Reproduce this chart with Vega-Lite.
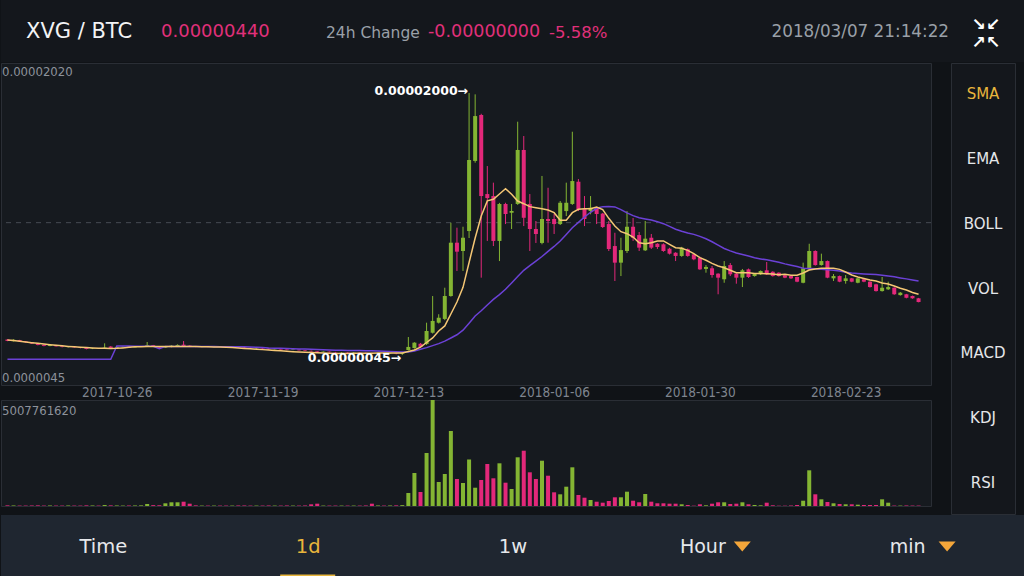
{
  "$schema": "https://vega.github.io/schema/vega-lite/v6.json",
  "background": "#101317",
  "padding": 0,
  "spacing": 0,
  "config": {"view": {"stroke": null}, "font": "DejaVu Sans"},
  "datasets": {
    "candles": [
      {"date":"2017-10-08","open":160,"high":163,"low":148,"close":150,"volume":30000000,"ma7":157,"ma25":13},
      {"date":"2017-10-09","open":148,"high":162,"low":146,"close":158,"volume":25000000,"ma7":153,"ma25":13},
      {"date":"2017-10-10","open":156,"high":158,"low":143,"close":146,"volume":20000000,"ma7":148,"ma25":13},
      {"date":"2017-10-11","open":146,"high":149,"low":137,"close":140,"volume":20000000,"ma7":142,"ma25":13},
      {"date":"2017-10-12","open":140,"high":142,"low":127,"close":130,"volume":25000000,"ma7":137,"ma25":13},
      {"date":"2017-10-13","open":130,"high":133,"low":117,"close":120,"volume":30000000,"ma7":132,"ma25":13},
      {"date":"2017-10-14","open":121,"high":124,"low":110,"close":113,"volume":20000000,"ma7":127,"ma25":13},
      {"date":"2017-10-15","open":112,"high":122,"low":110,"close":119,"volume":25000000,"ma7":122,"ma25":13},
      {"date":"2017-10-16","open":118,"high":120,"low":107,"close":110,"volume":20000000,"ma7":117,"ma25":13},
      {"date":"2017-10-17","open":110,"high":113,"low":102,"close":105,"volume":20000000,"ma7":113,"ma25":13},
      {"date":"2017-10-18","open":104,"high":111,"low":101,"close":109,"volume":25000000,"ma7":109,"ma25":13},
      {"date":"2017-10-19","open":108,"high":110,"low":99,"close":102,"volume":20000000,"ma7":106,"ma25":13},
      {"date":"2017-10-20","open":102,"high":104,"low":94,"close":97,"volume":20000000,"ma7":103,"ma25":13},
      {"date":"2017-10-21","open":97,"high":99,"low":87,"close":90,"volume":30000000,"ma7":100,"ma25":13},
      {"date":"2017-10-22","open":91,"high":98,"low":89,"close":95,"volume":25000000,"ma7":98,"ma25":13},
      {"date":"2017-10-23","open":95,"high":97,"low":90,"close":93,"volume":20000000,"ma7":96,"ma25":13},
      {"date":"2017-10-24","open":93,"high":132,"low":91,"close":100,"volume":45000000,"ma7":95,"ma25":13},
      {"date":"2017-10-25","open":108,"high":112,"low":95,"close":98,"volume":30000000,"ma7":94,"ma25":13},
      {"date":"2017-10-26","open":98,"high":106,"low":96,"close":103,"volume":25000000,"ma7":95,"ma25":112},
      {"date":"2017-10-27","open":103,"high":108,"low":100,"close":106,"volume":20000000,"ma7":98,"ma25":112},
      {"date":"2017-10-28","open":106,"high":108,"low":99,"close":102,"volume":20000000,"ma7":102,"ma25":112},
      {"date":"2017-10-29","open":102,"high":110,"low":100,"close":107,"volume":25000000,"ma7":106,"ma25":111},
      {"date":"2017-10-30","open":107,"high":113,"low":105,"close":110,"volume":30000000,"ma7":107,"ma25":111},
      {"date":"2017-10-31","open":110,"high":142,"low":108,"close":118,"volume":94000000,"ma7":108,"ma25":111},
      {"date":"2017-11-01","open":118,"high":120,"low":107,"close":110,"volume":40000000,"ma7":108,"ma25":110},
      {"date":"2017-11-02","open":110,"high":112,"low":96,"close":99,"volume":35000000,"ma7":108,"ma25":92},
      {"date":"2017-11-03","open":99,"high":107,"low":97,"close":104,"volume":128000000,"ma7":108,"ma25":109},
      {"date":"2017-11-04","open":104,"high":118,"low":102,"close":115,"volume":175000000,"ma7":108,"ma25":109},
      {"date":"2017-11-05","open":112,"high":124,"low":110,"close":120,"volume":175000000,"ma7":108,"ma25":109},
      {"date":"2017-11-06","open":122,"high":149,"low":110,"close":112,"volume":203000000,"ma7":108,"ma25":108},
      {"date":"2017-11-07","open":115,"high":117,"low":105,"close":108,"volume":109000000,"ma7":108,"ma25":108},
      {"date":"2017-11-08","open":108,"high":110,"low":103,"close":105,"volume":30000000,"ma7":108,"ma25":108},
      {"date":"2017-11-09","open":105,"high":109,"low":103,"close":107,"volume":20000000,"ma7":107,"ma25":108},
      {"date":"2017-11-10","open":107,"high":109,"low":103,"close":105,"volume":20000000,"ma7":106,"ma25":108},
      {"date":"2017-11-11","open":105,"high":110,"low":103,"close":108,"volume":20000000,"ma7":105,"ma25":108},
      {"date":"2017-11-12","open":108,"high":110,"low":104,"close":106,"volume":20000000,"ma7":104,"ma25":107},
      {"date":"2017-11-13","open":106,"high":108,"low":102,"close":104,"volume":20000000,"ma7":102,"ma25":107},
      {"date":"2017-11-14","open":104,"high":108,"low":102,"close":106,"volume":20000000,"ma7":100,"ma25":107},
      {"date":"2017-11-15","open":106,"high":107,"low":100,"close":102,"volume":25000000,"ma7":97,"ma25":107},
      {"date":"2017-11-16","open":102,"high":104,"low":96,"close":98,"volume":25000000,"ma7":94,"ma25":106},
      {"date":"2017-11-17","open":98,"high":100,"low":93,"close":95,"volume":20000000,"ma7":91,"ma25":104},
      {"date":"2017-11-18","open":95,"high":99,"low":93,"close":97,"volume":20000000,"ma7":88,"ma25":102},
      {"date":"2017-11-19","open":97,"high":98,"low":91,"close":93,"volume":20000000,"ma7":85,"ma25":100},
      {"date":"2017-11-20","open":93,"high":95,"low":86,"close":88,"volume":25000000,"ma7":82,"ma25":97},
      {"date":"2017-11-21","open":88,"high":93,"low":86,"close":91,"volume":20000000,"ma7":79,"ma25":96},
      {"date":"2017-11-22","open":91,"high":92,"low":84,"close":86,"volume":20000000,"ma7":76,"ma25":95},
      {"date":"2017-11-23","open":86,"high":88,"low":80,"close":82,"volume":25000000,"ma7":73,"ma25":94},
      {"date":"2017-11-24","open":82,"high":87,"low":80,"close":85,"volume":20000000,"ma7":70,"ma25":92},
      {"date":"2017-11-25","open":85,"high":86,"low":78,"close":80,"volume":20000000,"ma7":68,"ma25":90},
      {"date":"2017-11-26","open":80,"high":82,"low":74,"close":76,"volume":25000000,"ma7":66,"ma25":89},
      {"date":"2017-11-27","open":76,"high":78,"low":70,"close":72,"volume":80000000,"ma7":64,"ma25":88},
      {"date":"2017-11-28","open":72,"high":74,"low":65,"close":67,"volume":109000000,"ma7":62,"ma25":86},
      {"date":"2017-11-29","open":67,"high":72,"low":65,"close":70,"volume":20000000,"ma7":60,"ma25":84},
      {"date":"2017-11-30","open":70,"high":71,"low":64,"close":66,"volume":20000000,"ma7":58,"ma25":82},
      {"date":"2017-12-01","open":66,"high":68,"low":61,"close":63,"volume":20000000,"ma7":57,"ma25":81},
      {"date":"2017-12-02","open":63,"high":67,"low":61,"close":65,"volume":20000000,"ma7":57,"ma25":80},
      {"date":"2017-12-03","open":65,"high":66,"low":60,"close":62,"volume":20000000,"ma7":57,"ma25":79},
      {"date":"2017-12-04","open":62,"high":66,"low":60,"close":64,"volume":20000000,"ma7":58,"ma25":78},
      {"date":"2017-12-05","open":64,"high":65,"low":59,"close":61,"volume":20000000,"ma7":58,"ma25":78},
      {"date":"2017-12-06","open":61,"high":63,"low":57,"close":59,"volume":25000000,"ma7":58,"ma25":77},
      {"date":"2017-12-07","open":60,"high":62,"low":54,"close":56,"volume":109000000,"ma7":58,"ma25":76},
      {"date":"2017-12-08","open":56,"high":61,"low":54,"close":59,"volume":25000000,"ma7":59,"ma25":74},
      {"date":"2017-12-09","open":59,"high":60,"low":53,"close":56,"volume":20000000,"ma7":59,"ma25":73},
      {"date":"2017-12-10","open":56,"high":60,"low":53,"close":58,"volume":25000000,"ma7":59,"ma25":71},
      {"date":"2017-12-11","open":58,"high":59,"low":50,"close":55,"volume":30000000,"ma7":60,"ma25":69},
      {"date":"2017-12-12","open":55,"high":66,"low":45,"close":62,"volume":40000000,"ma7":60,"ma25":67},
      {"date":"2017-12-13","open":82,"high":179,"low":79,"close":105,"volume":614000000,"ma7":71,"ma25":67},
      {"date":"2017-12-14","open":97,"high":140,"low":92,"close":137,"volume":1559000000,"ma7":82,"ma25":75},
      {"date":"2017-12-15","open":129,"high":135,"low":100,"close":105,"volume":661000000,"ma7":104,"ma25":88},
      {"date":"2017-12-16","open":127,"high":286,"low":120,"close":224,"volume":2504000000,"ma7":138,"ma25":100},
      {"date":"2017-12-17","open":211,"high":485,"low":205,"close":299,"volume":5007761620,"ma7":172,"ma25":115},
      {"date":"2017-12-18","open":286,"high":349,"low":280,"close":323,"volume":1134000000,"ma7":224,"ma25":130},
      {"date":"2017-12-19","open":314,"high":547,"low":305,"close":485,"volume":1512000000,"ma7":262,"ma25":148},
      {"date":"2017-12-20","open":485,"high":1032,"low":480,"close":883,"volume":3543000000,"ma7":351,"ma25":172},
      {"date":"2017-12-21","open":883,"high":995,"low":672,"close":816,"volume":1275000000,"ma7":440,"ma25":196},
      {"date":"2017-12-22","open":821,"high":1002,"low":672,"close":920,"volume":1087000000,"ma7":550,"ma25":230},
      {"date":"2017-12-23","open":970,"high":2000,"low":918,"close":1500,"volume":2197000000,"ma7":735,"ma25":282},
      {"date":"2017-12-24","open":1493,"high":1990,"low":1480,"close":1828,"volume":864000000,"ma7":918,"ma25":336},
      {"date":"2017-12-25","open":1836,"high":1845,"low":622,"close":1231,"volume":1228000000,"ma7":1082,"ma25":375},
      {"date":"2017-12-26","open":1246,"high":1455,"low":896,"close":1216,"volume":1984000000,"ma7":1195,"ma25":418},
      {"date":"2017-12-27","open":1231,"high":1331,"low":858,"close":896,"volume":1309000000,"ma7":1207,"ma25":460},
      {"date":"2017-12-28","open":896,"high":1180,"low":746,"close":1172,"volume":2017000000,"ma7":1246,"ma25":496},
      {"date":"2017-12-29","open":1172,"high":1181,"low":1022,"close":1097,"volume":1101000000,"ma7":1286,"ma25":535},
      {"date":"2017-12-30","open":1107,"high":1172,"low":985,"close":1119,"volume":803000000,"ma7":1244,"ma25":582},
      {"date":"2017-12-31","open":1172,"high":1786,"low":1165,"close":1575,"volume":2301000000,"ma7":1194,"ma25":630},
      {"date":"2018-01-01","open":1575,"high":1679,"low":1007,"close":1069,"volume":2612000000,"ma7":1174,"ma25":677},
      {"date":"2018-01-02","open":1172,"high":1246,"low":821,"close":985,"volume":1592000000,"ma7":1152,"ma25":712},
      {"date":"2018-01-03","open":985,"high":1045,"low":881,"close":948,"volume":1275000000,"ma7":1144,"ma25":746},
      {"date":"2018-01-04","open":881,"high":1381,"low":871,"close":1060,"volume":2140000000,"ma7":1137,"ma25":780},
      {"date":"2018-01-05","open":1060,"high":1293,"low":883,"close":1045,"volume":1431000000,"ma7":1127,"ma25":818},
      {"date":"2018-01-06","open":1060,"high":1097,"low":948,"close":1022,"volume":647000000,"ma7":1107,"ma25":855},
      {"date":"2018-01-07","open":1022,"high":1194,"low":1015,"close":1181,"volume":553000000,"ma7":1050,"ma25":895},
      {"date":"2018-01-08","open":1119,"high":1331,"low":1082,"close":1181,"volume":912000000,"ma7":1050,"ma25":945},
      {"date":"2018-01-09","open":1172,"high":1711,"low":1165,"close":1343,"volume":1828000000,"ma7":1107,"ma25":995},
      {"date":"2018-01-10","open":1338,"high":1358,"low":1119,"close":1134,"volume":520000000,"ma7":1132,"ma25":1035},
      {"date":"2018-01-11","open":1134,"high":1231,"low":1007,"close":1060,"volume":392000000,"ma7":1137,"ma25":1075},
      {"date":"2018-01-12","open":1119,"high":1231,"low":1095,"close":1144,"volume":283000000,"ma7":1137,"ma25":1110},
      {"date":"2018-01-13","open":1144,"high":1150,"low":1022,"close":1097,"volume":203000000,"ma7":1149,"ma25":1140},
      {"date":"2018-01-14","open":1100,"high":1105,"low":993,"close":1000,"volume":156000000,"ma7":1130,"ma25":1152},
      {"date":"2018-01-15","open":1022,"high":1045,"low":821,"close":836,"volume":236000000,"ma7":1065,"ma25":1153},
      {"date":"2018-01-16","open":858,"high":957,"low":597,"close":734,"volume":411000000,"ma7":1007,"ma25":1150},
      {"date":"2018-01-17","open":734,"high":920,"low":634,"close":828,"volume":411000000,"ma7":965,"ma25":1130},
      {"date":"2018-01-18","open":821,"high":1119,"low":806,"close":1002,"volume":676000000,"ma7":950,"ma25":1105},
      {"date":"2018-01-19","open":1002,"high":1067,"low":896,"close":920,"volume":250000000,"ma7":925,"ma25":1085},
      {"date":"2018-01-20","open":940,"high":963,"low":821,"close":846,"volume":175000000,"ma7":883,"ma25":1069},
      {"date":"2018-01-21","open":826,"high":1045,"low":821,"close":913,"volume":567000000,"ma7":875,"ma25":1060},
      {"date":"2018-01-22","open":920,"high":948,"low":836,"close":846,"volume":203000000,"ma7":883,"ma25":1052},
      {"date":"2018-01-23","open":875,"high":880,"low":836,"close":851,"volume":128000000,"ma7":896,"ma25":1040},
      {"date":"2018-01-24","open":871,"high":878,"low":815,"close":821,"volume":128000000,"ma7":896,"ma25":1025},
      {"date":"2018-01-25","open":838,"high":845,"low":795,"close":801,"volume":109000000,"ma7":871,"ma25":1005},
      {"date":"2018-01-26","open":808,"high":812,"low":746,"close":784,"volume":109000000,"ma7":846,"ma25":983},
      {"date":"2018-01-27","open":784,"high":852,"low":778,"close":846,"volume":80000000,"ma7":841,"ma25":968},
      {"date":"2018-01-28","open":834,"high":840,"low":778,"close":784,"volume":47000000,"ma7":826,"ma25":955},
      {"date":"2018-01-29","open":796,"high":800,"low":752,"close":759,"volume":15000000,"ma7":801,"ma25":945},
      {"date":"2018-01-30","open":771,"high":778,"low":680,"close":684,"volume":80000000,"ma7":771,"ma25":930},
      {"date":"2018-01-31","open":687,"high":716,"low":659,"close":702,"volume":33000000,"ma7":752,"ma25":912},
      {"date":"2018-02-01","open":692,"high":709,"low":622,"close":642,"volume":109000000,"ma7":729,"ma25":890},
      {"date":"2018-02-02","open":652,"high":655,"low":498,"close":622,"volume":175000000,"ma7":709,"ma25":865},
      {"date":"2018-02-03","open":610,"high":746,"low":584,"close":709,"volume":175000000,"ma7":696,"ma25":840},
      {"date":"2018-02-04","open":716,"high":731,"low":634,"close":647,"volume":94000000,"ma7":677,"ma25":822},
      {"date":"2018-02-05","open":652,"high":655,"low":577,"close":622,"volume":109000000,"ma7":659,"ma25":806},
      {"date":"2018-02-06","open":622,"high":687,"low":552,"close":677,"volume":175000000,"ma7":659,"ma25":795},
      {"date":"2018-02-07","open":684,"high":690,"low":620,"close":627,"volume":80000000,"ma7":659,"ma25":784},
      {"date":"2018-02-08","open":634,"high":655,"low":630,"close":652,"volume":47000000,"ma7":654,"ma25":770},
      {"date":"2018-02-09","open":647,"high":676,"low":642,"close":672,"volume":33000000,"ma7":654,"ma25":762},
      {"date":"2018-02-10","open":677,"high":739,"low":642,"close":647,"volume":156000000,"ma7":652,"ma25":755},
      {"date":"2018-02-11","open":666,"high":670,"low":630,"close":634,"volume":33000000,"ma7":649,"ma25":747},
      {"date":"2018-02-12","open":659,"high":662,"low":630,"close":634,"volume":15000000,"ma7":644,"ma25":737},
      {"date":"2018-02-13","open":640,"high":643,"low":618,"close":622,"volume":15000000,"ma7":647,"ma25":725},
      {"date":"2018-02-14","open":634,"high":638,"low":612,"close":617,"volume":24000000,"ma7":640,"ma25":715},
      {"date":"2018-02-15","open":627,"high":630,"low":588,"close":592,"volume":47000000,"ma7":640,"ma25":705},
      {"date":"2018-02-16","open":584,"high":734,"low":580,"close":692,"volume":250000000,"ma7":657,"ma25":693},
      {"date":"2018-02-17","open":684,"high":875,"low":680,"close":821,"volume":1686000000,"ma7":679,"ma25":690},
      {"date":"2018-02-18","open":821,"high":826,"low":712,"close":716,"volume":553000000,"ma7":687,"ma25":688},
      {"date":"2018-02-19","open":716,"high":801,"low":712,"close":746,"volume":316000000,"ma7":692,"ma25":685},
      {"date":"2018-02-20","open":746,"high":750,"low":618,"close":622,"volume":189000000,"ma7":692,"ma25":682},
      {"date":"2018-02-21","open":617,"high":649,"low":597,"close":634,"volume":128000000,"ma7":692,"ma25":678},
      {"date":"2018-02-22","open":634,"high":638,"low":588,"close":592,"volume":94000000,"ma7":684,"ma25":672},
      {"date":"2018-02-23","open":597,"high":642,"low":577,"close":617,"volume":80000000,"ma7":664,"ma25":663},
      {"date":"2018-02-24","open":617,"high":620,"low":588,"close":592,"volume":80000000,"ma7":642,"ma25":657},
      {"date":"2018-02-25","open":584,"high":620,"low":580,"close":617,"volume":61000000,"ma7":627,"ma25":653},
      {"date":"2018-02-26","open":610,"high":613,"low":588,"close":592,"volume":47000000,"ma7":616,"ma25":650},
      {"date":"2018-02-27","open":592,"high":595,"low":548,"close":552,"volume":47000000,"ma7":604,"ma25":648},
      {"date":"2018-02-28","open":572,"high":576,"low":518,"close":522,"volume":47000000,"ma7":597,"ma25":645},
      {"date":"2018-03-01","open":522,"high":627,"low":518,"close":547,"volume":316000000,"ma7":582,"ma25":640},
      {"date":"2018-03-02","open":535,"high":592,"low":530,"close":552,"volume":156000000,"ma7":575,"ma25":635},
      {"date":"2018-03-03","open":547,"high":550,"low":494,"close":498,"volume":20000000,"ma7":560,"ma25":628},
      {"date":"2018-03-04","open":492,"high":515,"low":488,"close":510,"volume":20000000,"ma7":543,"ma25":620},
      {"date":"2018-03-05","open":498,"high":501,"low":468,"close":472,"volume":25000000,"ma7":530,"ma25":613},
      {"date":"2018-03-06","open":485,"high":488,"low":465,"close":468,"volume":20000000,"ma7":511,"ma25":605},
      {"date":"2018-03-07","open":468,"high":471,"low":438,"close":440,"volume":20000000,"ma7":498,"ma25":597}
    ]
  },
  "vconcat": [
    {
      "width": 1024,
      "height": 62,
      "view": {"fill": "#14171c", "stroke": null},
      "data": {"values": [{"k": 1}]},
      "layer": [
        {"mark": {"type": "text", "text": "XVG / BTC", "x": 25, "y": 32, "align": "left", "baseline": "middle", "fontSize": 21, "color": "#f2f3f5", "font": "DejaVu Sans"}},
        {"mark": {"type": "text", "text": "0.00000440", "x": 160, "y": 32, "align": "left", "baseline": "middle", "fontSize": 18, "color": "#e0307a", "font": "DejaVu Sans"}},
        {"mark": {"type": "text", "text": "24h Change", "x": 325, "y": 33, "align": "left", "baseline": "middle", "fontSize": 15.5, "color": "#9aa0a8", "font": "DejaVu Sans"}},
        {"mark": {"type": "text", "text": "-0.00000000", "x": 427, "y": 32, "align": "left", "baseline": "middle", "fontSize": 17.5, "color": "#e0307a", "font": "DejaVu Sans"}},
        {"mark": {"type": "text", "text": "-5.58%", "x": 548, "y": 33, "align": "left", "baseline": "middle", "fontSize": 16.5, "color": "#e0307a", "font": "DejaVu Sans"}},
        {"mark": {"type": "text", "text": "2018/03/07 21:14:22", "x": 948, "y": 32, "align": "right", "baseline": "middle", "fontSize": 16.8, "color": "#9aa0a8", "font": "DejaVu Sans"}},
        {"mark": {"type": "text", "text": "↘↙", "x": 985, "y": 25, "align": "center", "baseline": "middle", "fontSize": 17, "fontWeight": "bold", "color": "#ffffff", "font": "DejaVu Sans"}},
        {"mark": {"type": "text", "text": "↗↖", "x": 985, "y": 43, "align": "center", "baseline": "middle", "fontSize": 17, "fontWeight": "bold", "color": "#ffffff", "font": "DejaVu Sans"}}
      ]
    },
    {
      "hconcat": [
        {
          "vconcat": [
            {
              "width": 930,
              "height": 322,
              "view": {"fill": "#161a1f", "stroke": "#2a2e35"},
              "data": {"name": "candles"},
              "layer": [
                {
                  "data": {"values": [{"k": 1}]},
                  "mark": {"type": "rule", "color": "#454a52", "strokeDash": [5, 5], "strokeWidth": 1},
                  "encoding": {"y": {"datum": 1032.5, "type": "quantitative", "scale": {"domain": [-179, 2224], "nice": false, "zero": false}, "axis": null}}
                },
                {
                  "data": {"values": [{"label": "0.00002020"}]},
                  "mark": {"type": "text", "x": 1, "y": 9, "align": "left", "baseline": "middle", "font": "DejaVu Sans Condensed", "fontSize": 13, "color": "#8d929b"},
                  "encoding": {"text": {"field": "label"}}
                },
                {
                  "data": {"values": [{"label": "0.0000045"}]},
                  "mark": {"type": "text", "x": 1, "y": 315, "align": "left", "baseline": "middle", "font": "DejaVu Sans Condensed", "fontSize": 13, "color": "#8d929b"},
                  "encoding": {"text": {"field": "label"}}
                },
                {
                  "encoding": {
                    "x": {
                      "field": "date", "type": "temporal",
                      "scale": {"type": "utc", "domain": [{"year": 2017, "month": 10, "date": 7, "hours": 18, "minutes": 13, "utc": true}, {"year": 2018, "month": 3, "date": 8, "hours": 5, "minutes": 24, "utc": true}]},
                      "axis": {
                        "title": null, "grid": false, "domain": false, "ticks": false, "labelPadding": 0,
                        "labelFont": "DejaVu Sans Condensed", "labelFontSize": 13.5, "labelColor": "#7f858f",
                        "labelExpr": "utcFormat(datum.value, '%Y-%m-%d')",
                        "values": [
                          {"year": 2017, "month": 10, "date": 26, "utc": true},
                          {"year": 2017, "month": 11, "date": 19, "utc": true},
                          {"year": 2017, "month": 12, "date": 13, "utc": true},
                          {"year": 2018, "month": 1, "date": 6, "utc": true},
                          {"year": 2018, "month": 1, "date": 30, "utc": true},
                          {"year": 2018, "month": 2, "date": 23, "utc": true}
                        ]
                      }
                    }
                  },
                  "layer": [
                    {
                      "mark": {"type": "rule", "strokeWidth": 1},
                      "encoding": {
                        "y": {"field": "low", "type": "quantitative", "scale": {"domain": [-179, 2224], "nice": false, "zero": false}, "axis": null},
                        "y2": {"field": "high"},
                        "color": {"condition": {"test": "datum.close >= datum.open", "value": "#84b533"}, "value": "#e3287a"}
                      }
                    },
                    {
                      "mark": {"type": "bar", "size": 4},
                      "encoding": {
                        "y": {"field": "open", "type": "quantitative", "scale": {"domain": [-179, 2224], "nice": false, "zero": false}, "axis": null},
                        "y2": {"field": "close"},
                        "color": {"condition": {"test": "datum.close >= datum.open", "value": "#84b533"}, "value": "#e3287a"}
                      }
                    },
                    {
                      "mark": {"type": "line", "color": "#6b41d6", "strokeWidth": 1.5},
                      "encoding": {"y": {"field": "ma25", "type": "quantitative", "scale": {"domain": [-179, 2224], "nice": false, "zero": false}, "axis": null}}
                    },
                    {
                      "mark": {"type": "line", "color": "#f5c775", "strokeWidth": 1.5},
                      "encoding": {"y": {"field": "ma7", "type": "quantitative", "scale": {"domain": [-179, 2224], "nice": false, "zero": false}, "axis": null}}
                    },
                    {
                      "data": {"values": [{"date": "2017-12-23", "price": 2000, "label": "0.00002000→"}]},
                      "mark": {"type": "text", "align": "right", "baseline": "middle", "dx": -1, "dy": -2, "font": "DejaVu Sans", "fontWeight": "bold", "fontSize": 12.5, "color": "#ffffff"},
                      "encoding": {
                        "y": {"field": "price", "type": "quantitative", "scale": {"domain": [-179, 2224], "nice": false, "zero": false}, "axis": null},
                        "text": {"field": "label"}
                      }
                    },
                    {
                      "data": {"values": [{"date": "2017-12-12", "price": 45, "label": "0.00000045→"}]},
                      "mark": {"type": "text", "align": "right", "baseline": "middle", "dx": -1, "dy": 3, "font": "DejaVu Sans", "fontWeight": "bold", "fontSize": 12.5, "color": "#ffffff"},
                      "encoding": {
                        "y": {"field": "price", "type": "quantitative", "scale": {"domain": [-179, 2224], "nice": false, "zero": false}, "axis": null},
                        "text": {"field": "label"}
                      }
                    }
                  ]
                }
              ]
            },
            {
              "width": 930,
              "height": 106,
              "view": {"fill": "#161a1f", "stroke": "#2a2e35"},
              "data": {"name": "candles"},
              "layer": [
                {
                  "mark": {"type": "bar", "size": 4},
                  "encoding": {
                    "x": {
                      "field": "date", "type": "temporal", "axis": null,
                      "scale": {"type": "utc", "domain": [{"year": 2017, "month": 10, "date": 7, "hours": 18, "minutes": 13, "utc": true}, {"year": 2018, "month": 3, "date": 8, "hours": 5, "minutes": 24, "utc": true}]}
                    },
                    "y": {"field": "volume", "type": "quantitative", "scale": {"domain": [0, 5007761620], "nice": false}, "axis": null},
                    "color": {"condition": {"test": "datum.close >= datum.open", "value": "#84b533"}, "value": "#e3287a"}
                  }
                },
                {
                  "data": {"values": [{"label": "5007761620"}]},
                  "mark": {"type": "text", "x": 1, "y": 11, "align": "left", "baseline": "middle", "font": "DejaVu Sans Condensed", "fontSize": 13, "color": "#8d929b"},
                  "encoding": {"text": {"field": "label"}}
                }
              ]
            }
          ],
          "spacing": 0
        },
        {
          "width": 64,
          "height": 451,
          "view": {"fill": "#14171c", "stroke": "#2a2e35"},
          "data": {"values": [{"name": "SMA"}, {"name": "EMA"}, {"name": "BOLL"}, {"name": "VOL"}, {"name": "MACD"}, {"name": "KDJ"}, {"name": "RSI"}]},
          "mark": {"type": "text", "font": "DejaVu Sans", "fontSize": 15, "baseline": "middle"},
          "encoding": {
            "y": {"field": "name", "type": "nominal", "scale": {"type": "point", "padding": 0.47, "domain": ["SMA", "EMA", "BOLL", "VOL", "MACD", "KDJ", "RSI"]}, "axis": null},
            "text": {"field": "name"},
            "color": {"condition": {"test": "datum.name === 'SMA'", "value": "#e8b53c"}, "value": "#e4e6e9"}
          }
        }
      ],
      "spacing": 18
    },
    {
      "width": 1024,
      "height": 63,
      "view": {"fill": "#1f2630", "stroke": null},
      "data": {"values": [{"tab": "Time"}, {"tab": "1d"}, {"tab": "1w"}, {"tab": "Hour"}, {"tab": "min"}]},
      "encoding": {
        "x": {"field": "tab", "type": "nominal", "scale": {"domain": ["Time", "1d", "1w", "Hour", "min"], "paddingInner": 0, "paddingOuter": 0}, "axis": null}
      },
      "layer": [
        {
          "transform": [{"filter": "datum.tab !== 'Hour' && datum.tab !== 'min'"}],
          "mark": {"type": "text", "font": "DejaVu Sans", "fontSize": 19.5, "baseline": "middle"},
          "encoding": {
            "text": {"field": "tab"},
            "color": {"condition": {"test": "datum.tab === '1d'", "value": "#e8b53c"}, "value": "#e6e8eb"}
          }
        },
        {
          "transform": [{"filter": "datum.tab === 'Hour' || datum.tab === 'min'"}],
          "mark": {"type": "text", "font": "DejaVu Sans", "fontSize": 19, "baseline": "middle", "dx": -15, "color": "#e6e8eb"},
          "encoding": {"text": {"field": "tab"}}
        },
        {
          "transform": [{"filter": "datum.tab === 'Hour' || datum.tab === 'min'"}],
          "mark": {"type": "point", "shape": "M16,-5L33,-5L24.5,5Z", "size": 4, "filled": true, "opacity": 1, "color": "#f4a63a"}
        },
        {
          "transform": [{"filter": "datum.tab === '1d'"}],
          "mark": {"type": "point", "shape": "M-28,28L27,28L27,32L-28,32Z", "size": 4, "filled": true, "opacity": 1, "color": "#e8b53c"}
        }
      ]
    }
  ]
}
